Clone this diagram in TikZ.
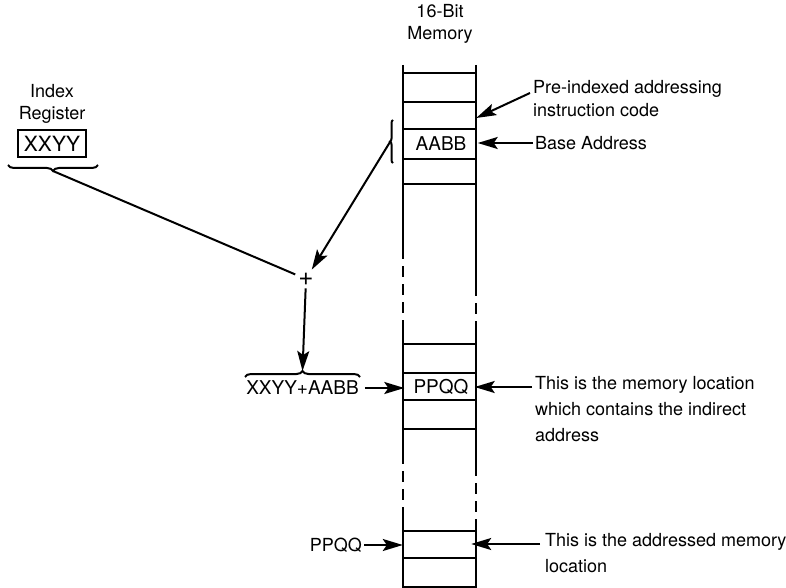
\documentclass[tikz,border=0pt]{standalone}
\usepackage{fontspec}
\setmainfont{TeX Gyre Heros}
\usetikzlibrary{
  positioning,
  arrows.meta,
  decorations.pathreplacing
}

\begin{document}
\begin{tikzpicture}[x=1pt,y=-1pt,
  memline/.style={line width=2.6pt},
  conn/.style={line width=2pt},
  arr/.style={conn,-{Stealth[length=20pt,width=12pt,inset=4pt]}},
  brc/.style={conn,decorate,decoration={brace,amplitude=#1}},
  brc/.default=6pt,
  cell/.style={minimum width=73pt,minimum height=27pt,inner sep=0pt,
    font=\fontsize{19}{20}\selectfont},
  lbl/.style={font=\fontsize{18}{26}\selectfont,align=left,inner sep=0pt}]
  \useasboundingbox (0,0) rectangle (786,588);
  % 存储器列
  \foreach \y in {73,102,129,159,184,344,373,400,429,531,558,587}
    \draw[memline] (403,\y)--(476,\y);
  \draw[memline] (403,65)--(403,248) (403,320)--(403,453) (403,510)--(403,588);
  \draw[memline] (476,65)--(476,285) (476,331)--(476,465) (476,520)--(476,588);
  \draw[memline,dash pattern=on 11pt off 7pt]
    (403,248)--(403,320) (403,453)--(403,510)
    (476,285)--(476,331) (476,465)--(476,520);
  \node[cell] (opcode) at (439.5,115.5) {};
  \node[cell] (aabb) at (441,144) {AABB};
  \node[cell] (ppqq) at (441,386.5) {PPQQ};
  \node[cell] (target) at (439.5,544.5) {};
  \node[lbl,align=center,font=\fontsize{18}{22}\selectfont] (memtitle) at (440,24) {16-Bit\\Memory};
  % 变址寄存器
  \node[lbl,align=center,font=\fontsize{18}{22}\selectfont] (idxtitle) at (52,104) {Index\\Register};
  \node[draw,line width=2pt,minimum width=68pt,minimum height=27pt,inner sep=0pt,
    font=\fontsize{21}{22}\selectfont] (xxyy) at (52,143.5) {XXYY};
  % 括号
  \draw[brc] (98,165)--(8,165);
  \coordinate (idxtip) at (53,171);
  \draw[brc=3pt] (393,163)--(393,120);
  \coordinate (aabbtip) at (390,142);
  \draw[brc] (245,377)--(360,377);
  \coordinate (sumtip) at (302.5,371);
  % 加法
  \node[font=\fontsize{26}{26}\selectfont,inner sep=3pt] (plus) at (306,279) {+};
  \draw[conn] (idxtip)--(plus);
  \draw[arr] (aabbtip)--(plus);
  \draw[arr] (plus)--(sumtip);
  \node[lbl,font=\fontsize{19}{26}\selectfont] (sum) at (302.5,388) {XXYY+AABB};
  \draw[arr,shorten <=6pt] (sum.east)--(sum.east -| ppqq.west);
  \node[lbl,anchor=east] (ptr) at (362,545) {PPQQ};
  \draw[arr,shorten <=2pt] (ptr.east)--(ptr.east -| target.west);
  % 右侧说明
  \node[lbl,anchor=north west,font=\fontsize{18}{23}\selectfont] (opnote) at (533,80) {Pre-indexed addressing\\instruction code};
  \draw[arr] ([shift={(-3,13)}]opnote.north west)--([yshift=-2.5pt]opcode.east);
  \node[lbl,anchor=west] (basenote) at (535,143) {Base Address};
  \draw[arr] ([xshift=-2pt]basenote.west)--(basenote.west -| aabb.east);
  \node[lbl,anchor=north west] (locnote) at (535,376) {This is the memory location\\which contains the indirect\\address};
  \draw[arr] ([shift={(-3,11)}]locnote.north west)--([shift={(-3,11)}]locnote.north west -| ppqq.east);
  \node[lbl,anchor=north west] (tgtnote) at (545,533) {This is the addressed memory\\location};
  \draw[arr] ([shift={(-5,11)}]tgtnote.north west)--([shift={(-5,11)}]tgtnote.north west -| target.east);
\end{tikzpicture}
\end{document}
